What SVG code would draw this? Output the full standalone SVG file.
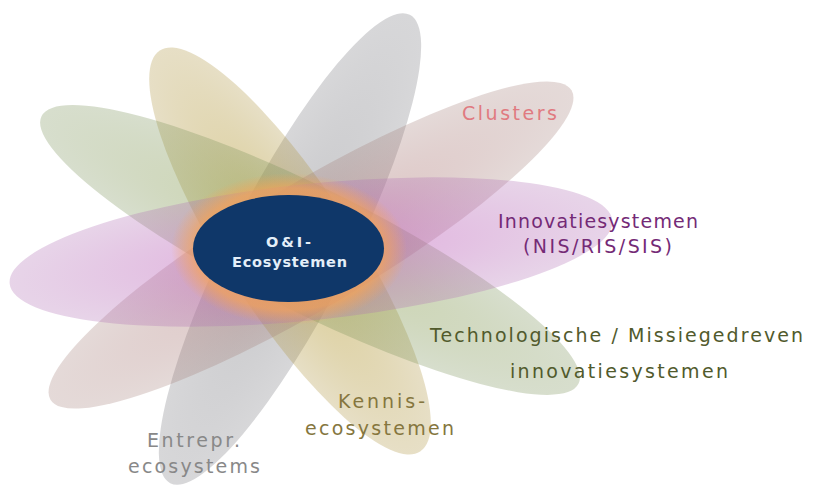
<svg xmlns="http://www.w3.org/2000/svg" width="816" height="488" viewBox="0 0 816 488">
<defs>
<style>
.lbl{font-family:"DejaVu Sans","Verdana",sans-serif;font-size:19px;text-anchor:start}
.ctr{font-family:"DejaVu Sans","Verdana",sans-serif;font-size:14.5px;font-weight:bold;fill:#e4eef8}
</style>
<radialGradient id="gGray"><stop offset="0" stop-color="#7a7a80" stop-opacity="0.4"/><stop offset="1" stop-color="#7a7a80" stop-opacity="0.3"/></radialGradient>
<radialGradient id="gBeige"><stop offset="0" stop-color="#b89c2c" stop-opacity="0.5"/><stop offset="1" stop-color="#ae9440" stop-opacity="0.3"/></radialGradient>
<radialGradient id="gGreen"><stop offset="0" stop-color="#8a9e48" stop-opacity="0.45"/><stop offset="1" stop-color="#7a9158" stop-opacity="0.3"/></radialGradient>
<radialGradient id="gMauve"><stop offset="0" stop-color="#b07070" stop-opacity="0.42"/><stop offset="1" stop-color="#a07a74" stop-opacity="0.28"/></radialGradient>
<radialGradient id="gPurple"><stop offset="0" stop-color="#c050b8" stop-opacity="0.48"/><stop offset="1" stop-color="#b070b4" stop-opacity="0.3"/></radialGradient>
<radialGradient id="gGlow"><stop offset="0" stop-color="#f5a050" stop-opacity="0.85"/><stop offset="0.8" stop-color="#f5a558" stop-opacity="0.7"/><stop offset="1" stop-color="#f5a558" stop-opacity="0"/></radialGradient>
</defs>
<rect width="816" height="488" fill="#ffffff"/>
<g id="petal-entrepr"><ellipse rx="263" ry="60" fill="url(#gGray)" transform="translate(290,249) rotate(-62.9)"/></g>
<g id="petal-kennis"><ellipse rx="239" ry="64" fill="url(#gBeige)" transform="translate(290,251) rotate(57)"/></g>
<g id="petal-technologische"><ellipse rx="300" ry="62" fill="url(#gGreen)" transform="translate(310,250) rotate(26.5)"/></g>
<g id="petal-clusters"><ellipse rx="303" ry="62" fill="url(#gMauve)" transform="translate(311,245) rotate(-30.7)"/></g>
<g id="petal-innovatiesystemen"><ellipse rx="303" ry="68" fill="url(#gPurple)" transform="translate(311,252) rotate(-6)"/></g>
<g id="glow"><ellipse cx="289" cy="249" rx="118" ry="76" fill="url(#gGlow)"/></g>
<g id="center">
<ellipse cx="288.5" cy="248.5" rx="95.5" ry="53.5" fill="#0f3769"/>
<text class="ctr" x="266" y="247" textLength="45" lengthAdjust="spacing">O&amp;I-</text>
<text class="ctr" x="232" y="267" textLength="115" lengthAdjust="spacing">Ecosystemen</text>
</g>
<g id="connectors"/>
<g id="labels">
<text class="lbl" x="462" y="120" fill="#e07a80" textLength="95" lengthAdjust="spacing">Clusters</text>
<text class="lbl" x="498" y="228" fill="#742a76" textLength="200" lengthAdjust="spacing">Innovatiesystemen</text>
<text class="lbl" x="523" y="253" fill="#742a76" textLength="149" lengthAdjust="spacing">(NIS/RIS/SIS)</text>
<text class="lbl" x="430" y="342" fill="#515a2c" textLength="373" lengthAdjust="spacing">Technologische / Missiegedreven</text>
<text class="lbl" x="510" y="378" fill="#515a2c" textLength="218" lengthAdjust="spacing">innovatiesystemen</text>
<text class="lbl" x="338" y="408" fill="#85763e" textLength="87" lengthAdjust="spacing">Kennis-</text>
<text class="lbl" x="305" y="435" fill="#85763e" textLength="149" lengthAdjust="spacing">ecosystemen</text>
<text class="lbl" x="147" y="447" fill="#888888" textLength="93" lengthAdjust="spacing">Entrepr.</text>
<text class="lbl" x="128" y="473" fill="#888888" textLength="132" lengthAdjust="spacing">ecosystems</text>
</g>
</svg>
